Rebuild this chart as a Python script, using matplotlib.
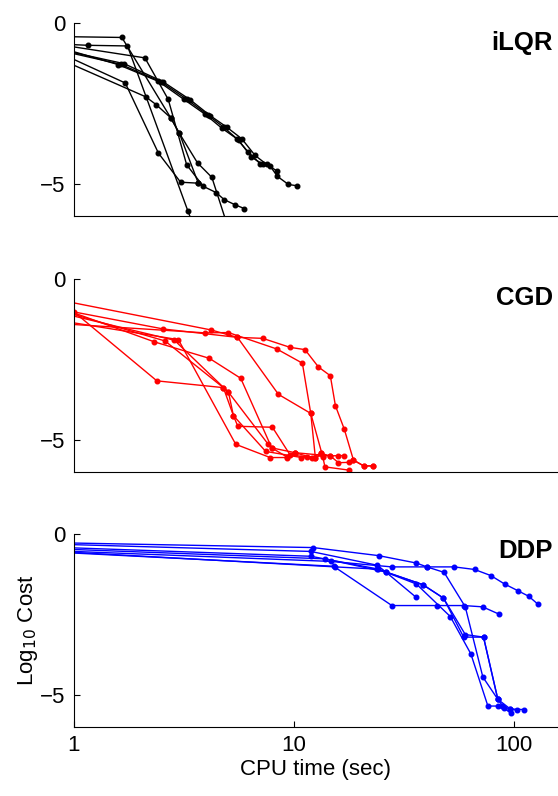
import numpy as np
import matplotlib
matplotlib.use("Agg")
import matplotlib.pyplot as plt

plt.rcParams['font.family'] = ['Liberation Sans', 'DejaVu Sans']

# iLQR runs: (CPU time, log10 cost)
ilqr_runs = [
    [(1, -0.90), (1.59, -1.30), (2.42, -1.82), (3.16, -2.38), (3.94, -2.84), (4.69, -3.27),
     (5.49, -3.60), (6.20, -4.02), (7.01, -4.38), (7.78, -4.45), (8.40, -4.77), (9.42, -5.02), (10.3, -5.06)],
    [(1, -0.93), (1.69, -1.27), (2.55, -1.84), (3.37, -2.39), (4.15, -2.88), (4.94, -3.24),
     (5.78, -3.60), (6.65, -4.12), (7.51, -4.40), (8.40, -4.61)],
    [(1, -0.96), (1.63, -1.29), (2.48, -1.83), (3.26, -2.38), (4.05, -2.86), (4.80, -3.25),
     (5.60, -3.65), (6.40, -4.17), (7.20, -4.39)],
    [(1, -0.435), (1.65, -0.456), (2.75, -2.95), (3.01, -3.43), (3.64, -4.35), (4.23, -4.80), (4.98, -6.3)],
    [(1, -0.68), (1.16, -0.70), (1.75, -0.72), (3.29, -5.84), (3.49, -6.3)],
    [(1, -0.75), (2.10, -1.09), (2.68, -2.38), (3.25, -4.41), (3.87, -5.08), (4.42, -5.27),
     (4.81, -5.49), (5.39, -5.65), (5.95, -5.77)],
    [(1, -1.14), (1.71, -1.87), (2.42, -4.05), (3.05, -4.95), (3.67, -4.98)],
    [(1, -1.32), (2.12, -2.30), (2.36, -2.54), (2.75, -2.95), (3.01, -3.43), (3.67, -4.98)],
]

cgd_runs = [
    [(1, -0.75), (4.20, -1.59), (5.53, -1.82), (7.20, -1.85), (9.59, -2.13), (11.2, -2.20), (12.9, -2.74),
     (14.6, -3.01), (15.4, -3.94), (16.9, -4.67), (18.6, -5.63), (20.7, -5.81), (22.9, -5.81)],
    [(1, -1.42), (3.94, -1.68), (5.03, -1.67), (8.34, -2.18), (10.9, -2.62), (11.9, -4.18), (12.5, -5.58),
     (13.2, -5.42), (14.6, -5.50), (15.9, -5.49), (16.8, -5.49)],
    [(1, -1.03), (2.55, -1.56), (5.53, -1.82), (8.49, -3.59), (11.9, -4.18), (13.5, -5.53), (13.8, -5.84),
     (17.7, -5.94)],
    [(1, -1.06), (2.32, -1.96), (4.12, -2.47), (5.72, -3.09), (7.91, -5.25), (9.26, -5.53), (10.1, -5.40),
     (12.0, -5.55), (13.2, -5.42)],
    [(1, -1.11), (2.59, -1.93), (4.77, -3.38), (5.30, -4.25), (5.55, -4.58), (7.97, -4.61), (9.59, -5.47),
     (11.4, -5.53), (13.5, -5.50)],
    [(1, -1.16), (2.86, -1.91), (5.03, -3.52), (5.30, -4.25), (7.43, -5.36), (10.8, -5.55), (12.5, -5.58)],
    [(1, -1.37), (2.98, -1.89), (5.43, -5.14), (7.78, -5.55), (9.26, -5.55), (10.1, -5.40)],
    [(1, -1.03), (2.38, -3.17), (4.77, -3.38), (5.03, -3.52), (7.59, -5.12), (7.91, -5.25), (10.1, -5.40),
     (14.6, -5.50), (15.9, -5.71), (17.7, -5.70), (18.6, -5.63), (20.7, -5.81), (22.9, -5.81)],
]

ddp_runs = [
    [(1, -0.29), (12.2, -0.43), (24.2, -0.68), (35.9, -0.91), (40.1, -1.03), (48.0, -1.20), (59.9, -2.27),
     (72.0, -4.45), (84.2, -5.14), (90.1, -5.42), (96.3, -5.57)],
    [(1, -0.34), (11.9, -0.55), (23.9, -0.98), (26.1, -1.19), (38.4, -1.58), (47.7, -2.00), (59.9, -3.13),
     (72.5, -3.21), (84.2, -5.14), (95.9, -5.44), (102.8, -5.48)],
    [(1, -0.44), (11.9, -0.70), (23.8, -1.09), (35.9, -1.56), (51.2, -2.57), (63.5, -3.73), (75.9, -5.35),
     (84.0, -5.35), (87.9, -5.36), (95.9, -5.44), (110.3, -5.46)],
    [(1, -0.49), (13.8, -0.78), (26.1, -1.19), (35.9, -1.98)],
    [(1, -0.55), (14.7, -0.86), (27.8, -1.03), (40.1, -1.03), (53.4, -1.03), (66.0, -1.11), (78.3, -1.30),
     (90.3, -1.56), (103.9, -1.77), (116.2, -1.94), (128.2, -2.19)],
    [(1, -0.60), (15.1, -1.01), (27.8, -2.23), (44.5, -2.23), (58.9, -2.23), (71.8, -2.27), (85.5, -2.50)],
    [(1, -0.58), (15.4, -1.03), (24.0, -1.10), (38.4, -1.58), (47.7, -2.00), (58.9, -3.21), (72.5, -3.21),
     (84.2, -5.14)],
]

names = ['iLQR', 'CGD', 'DDP']
name_y = [0.897, 0.903, 0.912]
colors = ['k', '#ff0000', '#0000ff']
all_runs = [ilqr_runs, cgd_runs, ddp_runs]

fig = plt.figure(figsize=(5.58, 7.96), dpi=100)
bottoms = [0.7286, 0.407, 0.0867]
for i in range(3):
    ax = fig.add_axes([0.1326, bottoms[i], 0.8674, 0.2428])
    for k, run in enumerate(all_runs[i]):
        t = [p[0] for p in run]
        c = [p[1] for p in run]
        # the starting point at t=1 is drawn without a marker (one CGD run keeps it)
        start = 0 if (i == 1 and k == 2) else 1
        ax.plot(t, c, '-o', color=colors[i], lw=1.0, ms=3.3,
                markevery=list(range(start, len(t))))
    ax.set_xscale('log')
    ax.set_xlim(1, 158)
    ax.set_ylim(-6, 0)
    ax.set_yticks([0, -5])
    ax.set_yticklabels(['0', '\u22125'])
    ax.spines['top'].set_visible(False)
    ax.spines['right'].set_visible(False)
    ax.tick_params(direction='in', labelsize=16, length=4, pad=6)
    ax.tick_params(axis='x', which='minor', length=0)
    ax.text(0.99, name_y[i], names[i], transform=ax.transAxes, ha='right', va='center',
            fontsize=18.5, fontweight='bold')
    if i < 2:
        ax.set_xticks([])
        ax.xaxis.set_minor_locator(matplotlib.ticker.NullLocator())
    else:
        ax.set_xticks([1, 10, 100])
        ax.set_xticklabels(['1', '10', '100'])
        ax.set_xlabel('CPU time (sec)', fontsize=16, labelpad=2)
        ax.set_ylabel('Log$_{10}$ Cost', fontsize=16, labelpad=0)

plt.savefig('out.png', dpi=100)
